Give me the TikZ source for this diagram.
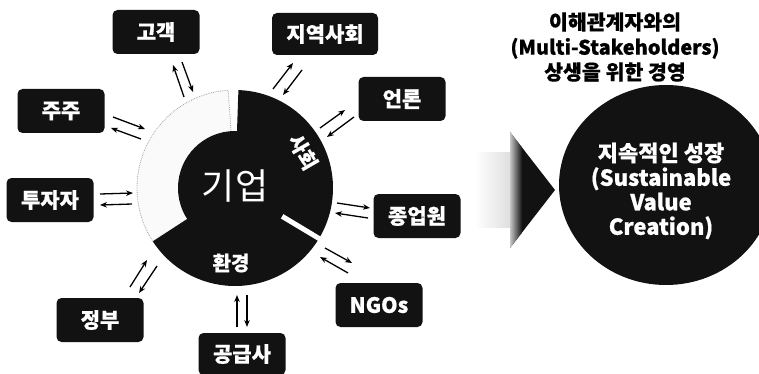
\documentclass[tikz,border=0pt]{standalone}
\usepackage{fontspec}
\setmainfont{Noto Sans CJK KR}
\newfontfamily\kheavy{Noto Sans CJK KR}[BoldFeatures={FakeBold=0.6}]
\usetikzlibrary{arrows.meta}
\begin{document}
\begin{tikzpicture}[x=1pt,y=-1pt,
  box/.style={fill=black!93, rounded corners=5pt, minimum width=87pt, minimum height=44pt, text=white, font=\kheavy\bfseries\fontsize{21}{24}\selectfont, inner sep=0pt},
  ringlabel/.style={text=white, font=\kheavy\bfseries\fontsize{20}{22}\selectfont, inner sep=0pt},
  arr/.style={line width=1.3pt, -{Stealth[length=7pt,width=5.5pt]}},
  sep/.style={white, line width=5pt},
  lightpart/.style={fill=gray!4, draw=gray!70, densely dotted, line width=0.8pt}
]
\useasboundingbox (0,0) rectangle (759,374);
\fill[white] (0,0) rectangle (759,374);

% ring
\coordinate (C) at (235,188);
\path[lightpart] (C) -- ++(147:98) arc[start angle=147, end angle=266, radius=98] -- cycle;
\fill[black!93] (C) -- ++(-88:98) arc[start angle=-88, end angle=147, radius=98] -- cycle;
\fill[black!93] (C) circle[radius=57];
\draw[sep] ([shift={(31:55)}]C) -- ([shift={(31:101)}]C);

\node[text=white, font=\fontsize{36}{38}\selectfont, inner sep=0pt] (corp) at (235,186) {기업};
\node[ringlabel, rotate=-60] (soc) at (303,152) {사회};
\node[ringlabel] (env) at (231,263) {환경};

% stakeholder boxes
\node[box] (b1) at (156,32) {고객};
\node[box, minimum width=106pt, minimum height=42pt] (b2) at (325,34) {지역사회};
\node[box] (b3) at (402,99) {언론};
\node[box] (b4) at (61,111) {주주};
\node[box] (b5) at (50,200) {투자자};
\node[box] (b6) at (100,320) {정부};
\node[box, minimum height=42pt] (b7) at (242,354) {공급사};
\node[box] (b8) at (379,305) {NGOs};
\node[box] (b9) at (417,216) {종업원};

% arrow end points
\coordinate (a1s) at (184,97);  \coordinate (a1e) at (173,65);
\coordinate (a2s) at (182,62);  \coordinate (a2e) at (193,92);
\coordinate (a3s) at (273,89);  \coordinate (a3e) at (293,63);
\coordinate (a4s) at (302,70);  \coordinate (a4e) at (283,95);
\coordinate (a5s) at (320,128); \coordinate (a5e) at (345,110);
\coordinate (a6s) at (354,117); \coordinate (a6e) at (327,137);
\coordinate (a7s) at (113,117); \coordinate (a7e) at (145,129);
\coordinate (a8s) at (141,139); \coordinate (a8e) at (111,128);
\coordinate (a9s) at (100,194); \coordinate (a9e) at (133,193);
\coordinate (a10s) at (132,204); \coordinate (a10e) at (100,205);
\coordinate (a11s) at (130,287); \coordinate (a11e) at (147,260);
\coordinate (a12s) at (157,266); \coordinate (a12e) at (139,293);
\coordinate (a13s) at (237,327); \coordinate (a13e) at (237,295);
\coordinate (a14s) at (247,295); \coordinate (a14e) at (247,327);
\coordinate (a15s) at (325,248); \coordinate (a15e) at (352,263);
\coordinate (a16s) at (348,273); \coordinate (a16e) at (320,257);
\coordinate (a17s) at (337,203); \coordinate (a17e) at (370,208);
\coordinate (a18s) at (368,218); \coordinate (a18e) at (335,213);
\foreach \i in {1,...,18} {\draw[arr] (a\i s) -- (a\i e);}

% big arrow (chevron)
\shade[left color=white, right color=gray!25] (475,153) rectangle (510,227);
\fill[black!93] (510,132) -- (555,190) -- (510,248) -- cycle;
\begin{scope}
  \clip (510,132) -- (555,190) -- (510,248) -- cycle;
  \shade[left color=gray!45, right color=black!93] (510,130) rectangle (522,250);
\end{scope}

% goal circle
\fill[black!93] (666,185) ellipse[x radius=107, y radius=100];
\node[text=white, font=\kheavy\bfseries\fontsize{22}{24.5}\selectfont, align=center, inner sep=0pt] (goal) at (661,191)
  {지속적인 성장\\(Sustainable\\Value\\Creation)};

% title
\node[font=\kheavy\bfseries\fontsize{20.5}{25}\selectfont, align=center, inner sep=0pt] (title) at (615,47)
  {이해관계자와의\\{\fontsize{20}{25}\selectfont(Multi-Stakeholders)}\\상생을 위한 경영};
\end{tikzpicture}
\end{document}
